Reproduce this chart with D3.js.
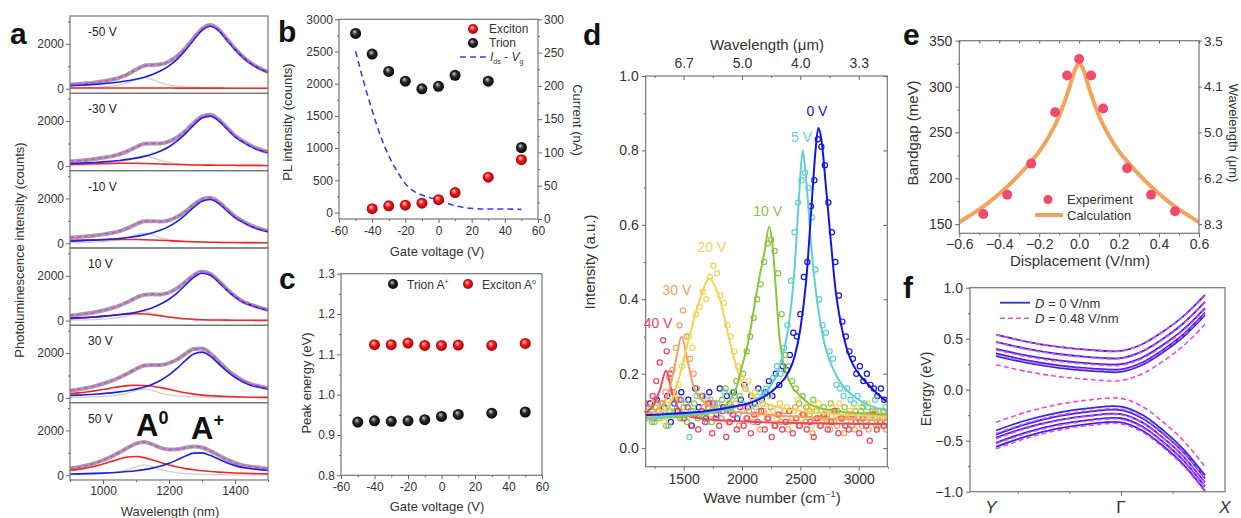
<!DOCTYPE html>
<html>
<head>
<meta charset="utf-8">
<script src="https://cdn.jsdelivr.net/npm/d3@7"></script>
<style>
  body { margin: 0; background: #fff; }
  svg { font-family: "Liberation Sans", Arial, sans-serif; }
</style>
</head>
<body>
<script>
// ---------- panel a : PL spectra at several gate voltages ----------
var aWave = [900,925,950,975,1000,1025,1050,1075,1100,1125,1150,1175,1200,1225,1250,1275,1300,1325,1350,1375,1400,1425,1450,1475,1500];
var aVolt = ["-50 V", "-30 V", "-10 V", "10 V", "30 V", "50 V"];
var aTrion = [
  [132,148,168,191,219,253,297,350,420,512,634,795,1017,1318,1712,2177,2600,2780,2600,2177,1750,1380,1090,880,720],
  [109,122,138,157,181,210,245,292,350,428,531,669,859,1115,1445,1822,2136,2223,2027,1670,1305,1060,850,700,590],
  [96,107,121,138,159,185,215,257,308,376,467,588,755,980,1270,1601,1877,1954,1782,1468,1147,932,747,615,519],
  [111,125,142,162,187,218,259,310,375,462,579,738,954,1240,1588,1927,2114,2031,1732,1374,1060,816,680,560,460],
  [112,127,145,166,193,226,269,322,394,488,615,789,1025,1328,1675,1964,2044,1863,1535,1199,923,713,560,480,400],
  [57,64,73,84,98,115,137,165,202,251,318,410,532,688,859,986,999,889,722,561,431,334,290,250,215]
];
var aExciton = [
  [30,30,30,30,30,30,30,30,29,28,27,26,25,24,23,22,22,21,21,20,20,20,20,20,20],
  [70,80,90,100,110,115,120,120,118,110,100,88,75,63,53,45,40,35,32,30,28,26,25,24,23],
  [130,140,150,158,165,170,172,172,168,160,148,132,115,98,82,68,57,48,42,37,33,30,28,26,25],
  [90,110,135,165,200,240,275,300,310,295,260,210,160,115,80,55,40,30,24,20,17,15,13,12,12],
  [190,225,265,315,375,440,505,550,565,555,520,460,390,300,230,170,125,100,80,65,52,42,34,28,24],
  [217,264,324,402,499,613,728,816,838,786,684,566,458,369,298,244,201,168,142,121,104,91,80,71,63]
];
var aComp = [
  [26,34,43,57,78,111,168,263,398,480,398,263,168,111,78,57,43,34,26,22,18,15,13,11,10],
  [25,31,40,54,73,104,158,247,373,450,373,247,158,104,73,54,40,31,25,20,17,14,12,10,9],
  [25,31,40,54,73,104,158,247,373,450,373,247,158,104,73,54,40,31,25,20,17,14,12,10,9],
  [22,28,36,48,65,93,140,219,332,400,332,219,140,93,65,48,36,28,22,18,15,13,11,9,8],
  [22,28,36,48,65,93,140,219,332,400,332,219,140,93,65,48,36,28,22,18,15,13,11,9,8],
  [25,31,40,54,73,104,158,247,373,450,373,247,158,104,73,54,40,31,25,20,17,14,12,10,9]
];

// ---------- panel b : PL intensity and current vs gate ----------
var bGate = [-50,-40,-30,-20,-10,0,10,30,50];
var bTrion = [2780,2460,2190,2040,1920,1960,2130,2040,1010];
var bExcGate = [-40,-30,-20,-10,0,10,30,50];
var bExciton = [60,105,115,145,200,310,550,820];
var bCurGate = [-50,-45,-40,-35,-30,-25,-20,-15,-10,-5,0,5,10,20,30,40,50];
var bCurrent = [252,205,163,125,95,72,53,42,36,32,29,24,20,16,15,15,14.5];

// ---------- panel c : peak energies ----------
var cTrion = [0.932,0.935,0.934,0.935,0.938,0.946,0.951,0.954,0.957];
var cExciton = [1.124,1.124,1.128,1.122,1.122,1.123,1.122,1.127];

// ---------- panel d : mid-IR PL ----------
var dTopLabels = ["6.7", "5.0", "4.0", "3.3"];
var dStep = 30;
var dData0V = [.10,.12,.08,.13,.09,.11,.14,.07,.12,.10, .15,.09,.13,.06,.16,.11,.14,.08,.15,.12,
  .09,.16,.11,.14,.10,.15,.08,.13,.17,.11, .14,.12,.16,.13,.15,.18,.14,.20,.17,.22,
  .21,.25,.31,.30,.36,.46,.50,.65,.72,.83, .81,.76,.66,.58,.50,.41,.34,.30,.26,.24, .20,.22,.18,.20,.17,.16,.14,.16,.13];
var dData5V = [.08,.11,.07,.10,.12,.09,.06,.11,.10,.13, .08,.12,.03,.10,.14,.09,.11,.07,.13,.10,
  .12,.08,.15,.10,.11,.14,.09,.12,.16,.10, .13,.11,.15,.12,.16,.14,.19,.22,.20,.27,
  .33,.45,.58,.66,.72,.74,.70,.62,.48,.40, .33,.31,.26,.24,.17,.16,.14,.16,.13,.12, .14,.10,.12,.11,.09,.13,.10,.08,.11];
var dData10V = [.09,.07,.11,.08,.12,.06,.10,.09,.13,.08, .11,.07,.10,.12,.08,.14,.09,.11,.07,.12,
  .10,.13,.16,.12,.15,.18,.14,.20,.26,.30, .35,.40,.44,.50,.55,.56,.53,.47,.36,.25,
  .22,.18,.16,.12,.14,.11,.09,.13,.10,.08, .11,.09,.12,.07,.10,.08,.11,.09,.06,.10, .08,.11,.07,.09,.10,.06,.08,.10,.07];
var dData20V = [.10,.08,.12,.09,.11,.07,.13,.10,.14,.17, .22,.24,.30,.27,.36,.38,.42,.40,.46,.49,
  .47,.41,.39,.33,.30,.26,.22,.19,.16,.18, .13,.15,.11,.12,.09,.14,.10,.08,.12,.09,
  .11,.07,.10,.13,.08,.09,.11,.06,.10,.12, .08,.10,.07,.11,.09,.12,.08,.06,.10,.09, .11,.07,.09,.12,.08,.10,.06,.09,.08];
var dData30V = [.11,.08,.13,.10,.12,.15,.19,.21,.27,.33, .37,.30,.24,.20,.16,.14,.11,.13,.09,.12,
  .10,.08,.11,.07,.09,.12,.06,.10,.08,.11, .07,.09,.05,.10,.08,.11,.06,.09,.07,.10,
  .05,.08,.11,.06,.09,.07,.10,.04,.08,.06, .09,.07,.05,.10,.06,.08,.04,.09,.07,.05, .08,.06,.09,.05,.07,.10,.06,.08,.05];
var dData40V = [.12,.09,.14,.18,.23,.29,.26,.20,.15,.10, .13,.08,.11,.06,.09,.05,.10,.07,.12,.04,
  .08,.06,.10,.03,.07,.09,.05,.11,.06,.08, .04,.09,.07,.10,.05,.08,.03,.06,.09,.05,
  .07,.10,.04,.08,.06,.09,.05,.07,.03,.08, .06,.09,.05,.07,.10,.04,.08,.06,.05,.09, .07,.04,.08,.06,.02,.09,.05,.07,.06];
var dFit0V = [[1175,.088],[1400,.092],[1700,.10],[1900,.11],[2100,.125],[2200,.14],[2300,.165],[2400,.205],[2450,.245],[2500,.32],[2550,.45],[2600,.67],[2630,.80],[2654,.86],[2680,.83],[2720,.70],[2760,.56],[2800,.43],[2850,.33],[2900,.265],[2950,.225],[3000,.20],[3100,.165],[3200,.135],[3245,.125]];
var dFit5V = [[1175,.08],[1500,.09],[1800,.10],[2000,.115],[2200,.15],[2300,.20],[2350,.25],[2400,.33],[2450,.48],[2490,.68],[2520,.80],[2550,.72],[2600,.52],[2650,.38],[2700,.29],[2800,.20],[2900,.155],[3000,.13],[3245,.10]];
var dFit10V = [[1175,.08],[1500,.085],[1800,.10],[1900,.13],[1950,.16],[2000,.22],[2050,.28],[2100,.37],[2150,.46],[2195,.53],[2232,.595],[2260,.55],[2290,.43],[2320,.30],[2360,.22],[2420,.17],[2500,.14],[2600,.115],[2800,.10],[3245,.09]];
var dFit20V = [[1175,.085],[1300,.095],[1400,.13],[1470,.20],[1550,.30],[1640,.40],[1719,.455],[1810,.40],[1900,.28],[1980,.19],[2100,.14],[2250,.115],[2500,.10],[3245,.085]];
var dFit30V = [[1175,.09],[1300,.11],[1380,.16],[1430,.23],[1483,.30],[1530,.24],[1580,.17],[1650,.13],[1800,.105],[2200,.09],[3245,.075]];
var dFit40V = [[1175,.095],[1250,.12],[1300,.16],[1349,.208],[1400,.15],[1450,.11],[1550,.085],[1800,.075],[2400,.068],[3245,.065]];

// ---------- panel e : bandgap vs displacement ----------
var eDisp = [-0.48,-0.36,-0.24,-0.12,-0.06,0,0.06,0.12,0.24,0.36,0.48];
var eGap = [161,182,216,272,312,330,312,276,211,182,164];
var eCalcDisp = [-0.6,-0.55,-0.5,-0.45,-0.4,-0.35,-0.3,-0.25,-0.2,-0.15,-0.1,-0.05,-0.025,0,0.025,0.05,0.1,0.15,0.2,0.25,0.3,0.35,0.4,0.45,0.5,0.55,0.6];
var eCalc = [152,159,166,174,183,193,204,216,229,246,268,298,316,325,316,298,268,246,229,216,204,193,183,174,166,159,152];
var eGapTicks = [150,200,250,300,350];
var eWaveLabels = ["8.3","6.2","5.0","4.1","3.5"];

// ---------- panel f : band structure ----------
var fK = [0,0.25,0.5,0.75,1,1.17,1.34,1.5,1.672];
var fBlue = [
  [0.54,0.47,0.42,0.39,0.38,0.446,0.573,0.721,0.93],
  [0.47,0.40,0.35,0.32,0.31,0.376,0.503,0.651,0.86],
  [0.40,0.334,0.288,0.259,0.25,0.316,0.443,0.591,0.80],
  [0.355,0.287,0.239,0.21,0.20,0.267,0.394,0.544,0.755],
  [0.33,0.262,0.214,0.185,0.175,0.242,0.369,0.519,0.73],
  [-0.40,-0.297,-0.224,-0.18,-0.165,-0.246,-0.401,-0.584,-0.84],
  [-0.44,-0.335,-0.26,-0.215,-0.20,-0.28,-0.435,-0.615,-0.87],
  [-0.47,-0.369,-0.298,-0.254,-0.24,-0.32,-0.475,-0.655,-0.91],
  [-0.52,-0.415,-0.34,-0.295,-0.28,-0.36,-0.515,-0.695,-0.95],
  [-0.56,-0.455,-0.38,-0.335,-0.32,-0.40,-0.555,-0.735,-0.99]
];
var fMagenta = [
  [0.54,0.47,0.42,0.39,0.38,0.446,0.572,0.719,0.92],
  [0.465,0.395,0.345,0.315,0.305,0.371,0.498,0.646,0.855],
  [0.39,0.324,0.278,0.249,0.24,0.306,0.433,0.581,0.79],
  [0.34,0.274,0.228,0.199,0.19,0.257,0.384,0.534,0.745],
  [0.245,0.177,0.129,0.10,0.09,0.156,0.283,0.431,0.64],
  [-0.32,-0.217,-0.144,-0.10,-0.085,-0.165,-0.32,-0.50,-0.755],
  [-0.43,-0.325,-0.25,-0.205,-0.19,-0.271,-0.426,-0.609,-0.865],
  [-0.48,-0.377,-0.304,-0.26,-0.245,-0.325,-0.48,-0.66,-0.915],
  [-0.53,-0.425,-0.35,-0.305,-0.29,-0.37,-0.523,-0.702,-0.955],
  [-0.58,-0.473,-0.396,-0.35,-0.335,-0.415,-0.568,-0.747,-1.0]
];

var W = 1241, H = 518;
var svg = d3.select("body").append("svg").attr("width", W).attr("height", H);
svg.append("rect").attr("width", W).attr("height", H).attr("fill", "#fff");
var defs = svg.append("defs");

function ball(id, c0, c1, c2) {
  var g = defs.append("radialGradient").attr("id", id)
    .attr("cx", "50%").attr("cy", "50%").attr("r", "55%")
    .attr("fx", "38%").attr("fy", "32%");
  g.append("stop").attr("offset", "0%").attr("stop-color", c0);
  g.append("stop").attr("offset", "45%").attr("stop-color", c1);
  g.append("stop").attr("offset", "100%").attr("stop-color", c2);
}
ball("redBall", "#ffd6d6", "#f01a1a", "#9a0000");
ball("blackBall", "#d0d0d0", "#2a2a2a", "#000");

function frame(x0, y0, x1, y1) {
  svg.append("rect").attr("x", x0).attr("y", y0)
    .attr("width", x1 - x0).attr("height", y1 - y0)
    .attr("fill", "none").attr("stroke", "#777").attr("stroke-width", 1.2);
}

function axis(gen, tx, ty, fs) {
  var g = svg.append("g").attr("transform", "translate(" + tx + "," + ty + ")").call(gen);
  g.select(".domain").remove();
  g.selectAll("line").attr("stroke", "#666");
  g.selectAll("text").attr("fill", "#333").attr("font-size", fs || 12)
    .attr("font-family", "Liberation Sans, Arial, sans-serif");
  return g;
}

function label(x, y, txt, fs, rot, anchor) {
  var t = svg.append("text").attr("font-size", fs).attr("fill", "#333")
    .attr("text-anchor", anchor || "middle");
  if (rot) t.attr("transform", "translate(" + x + "," + y + ") rotate(" + rot + ")");
  else t.attr("x", x).attr("y", y);
  t.text(txt);
  return t;
}

function letter(x, y, txt) {
  svg.append("text").attr("x", x).attr("y", y).attr("font-size", 30)
    .attr("font-weight", "bold").attr("fill", "#111").text(txt);
}

var plain = function(d) { return String(d); };

// ================= panel a =================
var ax = d3.scaleLinear().domain([900, 1500]).range([70, 268]);
var aTop = 16, aH = 77.33;
aTrion.forEach(function(tr, i) {
  var y0 = aTop + i * aH;
  var y = d3.scaleLinear().domain([-210, 3240]).range([y0 + aH, y0]);
  var total = aWave.map(function(w, j) { return tr[j] + aExciton[i][j] + aComp[i][j]; });
  var line = d3.line()
    .x(function(d, j) { return ax(aWave[j]); })
    .y(function(d) { return y(d); })
    .curve(d3.curveMonotoneX);
  svg.append("path").datum(total).attr("d", line).attr("fill", "none")
    .attr("stroke", "#a2a2a2").attr("stroke-width", 4);
  svg.append("path").datum(aComp[i]).attr("d", line).attr("fill", "none")
    .attr("stroke", "#cfcfcf").attr("stroke-width", 1.3);
  svg.append("path").datum(aExciton[i]).attr("d", line).attr("fill", "none")
    .attr("stroke", "#f22424").attr("stroke-width", 1.6);
  svg.append("path").datum(tr).attr("d", line).attr("fill", "none")
    .attr("stroke", "#1c1cee").attr("stroke-width", 1.6);
  svg.append("path").datum(total).attr("d", line).attr("fill", "none")
    .attr("stroke", "#e23ee8").attr("stroke-width", 1.5).attr("stroke-dasharray", "4,3");
  frame(70, y0, 268, y0 + aH);
  axis(d3.axisLeft(y).tickValues([0, 2000]).tickSize(4).tickPadding(2).tickFormat(plain), 70, 0, 12);
  axis(d3.axisLeft(y).tickValues([1000, 3000]).tickSize(2).tickFormat(""), 70, 0);
  svg.append("text").attr("x", 88).attr("y", y0 + 20).attr("font-size", 12)
    .attr("fill", "#222").text(aVolt[i]);
});
axis(d3.axisBottom(ax).tickValues([1000, 1200, 1400]).tickSize(4).tickPadding(3).tickFormat(plain), 0, aTop + 6 * aH, 12);
axis(d3.axisBottom(ax).tickValues([900, 1100, 1300, 1500]).tickSize(2).tickFormat(""), 0, aTop + 6 * aH);
label(170, 516, "Wavelength (nm)", 13);
label(24, 250, "Photoluminescence intensity (counts)", 13, -90);
letter(10, 44, "a");
var aA0 = svg.append("text").attr("x", 136).attr("y", 436).attr("font-size", 31)
  .attr("font-weight", "bold").attr("fill", "#111").text("A");
aA0.append("tspan").attr("dy", -12).attr("font-size", 18).text("0");
var aAp = svg.append("text").attr("x", 191).attr("y", 439).attr("font-size", 31)
  .attr("font-weight", "bold").attr("fill", "#111").text("A");
aAp.append("tspan").attr("dy", -13).attr("font-size", 18).text("+");

// ================= panel b =================
var bx = d3.scaleLinear().domain([-60, 60]).range([339, 538]);
var by = d3.scaleLinear().domain([-100, 3000]).range([219, 19.3]);
var byR = d3.scaleLinear().domain([0, 300]).range([219, 19.3]);
svg.append("path").datum(bCurrent)
  .attr("d", d3.line().x(function(d, j) { return bx(bCurGate[j]); })
    .y(function(d) { return byR(d); }).curve(d3.curveMonotoneX))
  .attr("fill", "none").attr("stroke", "#3c3cf0").attr("stroke-width", 1.6)
  .attr("stroke-dasharray", "6,4");
svg.append("g").selectAll("circle").data(bTrion).enter().append("circle")
  .attr("cx", function(d, j) { return bx(bGate[j]); })
  .attr("cy", function(d) { return by(d); })
  .attr("r", 5.5).attr("fill", "url(#blackBall)");
svg.append("g").selectAll("circle").data(bExciton).enter().append("circle")
  .attr("cx", function(d, j) { return bx(bExcGate[j]); })
  .attr("cy", function(d) { return by(d); })
  .attr("r", 5.5).attr("fill", "url(#redBall)");
frame(339, 19.3, 538, 219);
axis(d3.axisLeft(by).tickValues(d3.range(0, 3001, 500)).tickSize(4).tickPadding(2).tickFormat(plain), 339, 0, 12);
axis(d3.axisLeft(by).tickValues(d3.range(250, 3000, 500)).tickSize(2).tickFormat(""), 339, 0);
axis(d3.axisRight(byR).tickValues(d3.range(0, 301, 50)).tickSize(4).tickPadding(2).tickFormat(plain), 538, 0, 12);
axis(d3.axisRight(byR).tickValues(d3.range(25, 300, 50)).tickSize(2).tickFormat(""), 538, 0);
axis(d3.axisBottom(bx).tickValues(d3.range(-60, 61, 20)).tickSize(4).tickPadding(3).tickFormat(plain), 0, 219, 12);
axis(d3.axisBottom(bx).tickValues(d3.range(-50, 60, 20)).tickSize(2).tickFormat(""), 0, 219);
label(292, 122, "PL intensity (counts)", 13, -90);
label(573, 120, "Current (nA)", 13, 90);
label(437, 256, "Gate voltage (V)", 13);
letter(278, 42, "b");
svg.append("circle").attr("cx", 473).attr("cy", 29).attr("r", 5).attr("fill", "url(#redBall)");
svg.append("circle").attr("cx", 473).attr("cy", 43).attr("r", 5).attr("fill", "url(#blackBall)");
svg.append("line").attr("x1", 460).attr("x2", 487).attr("y1", 57).attr("y2", 57)
  .attr("stroke", "#3c3cf0").attr("stroke-width", 1.6).attr("stroke-dasharray", "6,4");
label(489, 33, "Exciton", 12, 0, "start");
label(489, 47, "Trion", 12, 0, "start");
var bI = svg.append("text").attr("x", 490).attr("y", 61).attr("font-size", 12).attr("fill", "#333");
bI.append("tspan").attr("font-style", "italic").text("I");
bI.append("tspan").attr("font-size", 7).attr("dy", 3).text("ds");
bI.append("tspan").attr("dy", -3).text(" - ");
bI.append("tspan").attr("font-style", "italic").text("V");
bI.append("tspan").attr("font-size", 7).attr("dy", 3).text("g");

// ================= panel c =================
var cx = d3.scaleLinear().domain([-60, 60]).range([341, 542]);
var cy = d3.scaleLinear().domain([0.8, 1.3]).range([475.3, 273.7]);
svg.append("g").selectAll("circle").data(cTrion).enter().append("circle")
  .attr("cx", function(d, j) { return cx(bGate[j]); })
  .attr("cy", function(d) { return cy(d); })
  .attr("r", 5.5).attr("fill", "url(#blackBall)");
svg.append("g").selectAll("circle").data(cExciton).enter().append("circle")
  .attr("cx", function(d, j) { return cx(bExcGate[j]); })
  .attr("cy", function(d) { return cy(d); })
  .attr("r", 5.5).attr("fill", "url(#redBall)");
frame(341, 273.7, 542, 475.3);
axis(d3.axisLeft(cy).tickValues(d3.range(0.8, 1.31, 0.1)).tickSize(4).tickPadding(2).tickFormat(d3.format(".1f")), 341, 0, 12);
axis(d3.axisLeft(cy).tickValues(d3.range(0.85, 1.3, 0.1)).tickSize(2).tickFormat(""), 341, 0);
axis(d3.axisBottom(cx).tickValues(d3.range(-60, 61, 20)).tickSize(4).tickPadding(3).tickFormat(plain), 0, 475.3, 12);
axis(d3.axisBottom(cx).tickValues(d3.range(-50, 60, 20)).tickSize(2).tickFormat(""), 0, 475.3);
label(311, 383, "Peak energy (eV)", 13, -90);
label(437, 511, "Gate voltage (V)", 13);
letter(279, 289, "c");
svg.append("circle").attr("cx", 393).attr("cy", 284).attr("r", 5).attr("fill", "url(#blackBall)");
var cT = svg.append("text").attr("x", 407).attr("y", 288.5).attr("font-size", 12).attr("fill", "#333").text("Trion A");
cT.append("tspan").attr("font-size", 7).attr("dy", -5).text("+");
svg.append("circle").attr("cx", 468).attr("cy", 284).attr("r", 5).attr("fill", "url(#redBall)");
var cE = svg.append("text").attr("x", 482).attr("y", 288.5).attr("font-size", 12).attr("fill", "#333").text("Exciton A");
cE.append("tspan").attr("font-size", 7).attr("dy", -5).text("o");

// ================= panel d =================
var dx = d3.scaleLinear().domain([1175, 3245]).range([645.7, 887.3]);
var dy = d3.scaleLinear().domain([-0.05, 1.0]).range([466.7, 76]);
var dSeries = [
  { name: "0 V", color: "#1515e0", start: 1180, data: dData0V, fit: dFit0V, lab: [2642, 0.905] },
  { name: "5 V", color: "#5fcfd0", start: 1190, data: dData5V, fit: dFit5V, lab: [2511, 0.836] },
  { name: "10 V", color: "#8cc43e", start: 1200, data: dData10V, fit: dFit10V, lab: [2220, 0.638] },
  { name: "20 V", color: "#f2d35a", start: 1185, data: dData20V, fit: dFit20V, lab: [1742, 0.539] },
  { name: "30 V", color: "#f5a062", start: 1195, data: dData30V, fit: dFit30V, lab: [1443, 0.424] },
  { name: "40 V", color: "#f0435f", start: 1175, data: dData40V, fit: dFit40V, lab: [1281, 0.336] }
];
defs.append("clipPath").attr("id", "dClip").append("rect")
  .attr("x", 645.7).attr("y", 76).attr("width", 241.6).attr("height", 390.7);
var dPlot = svg.append("g").attr("clip-path", "url(#dClip)");
dSeries.forEach(function(s) {
  dPlot.append("g").selectAll("circle").data(s.data).enter().append("circle")
    .attr("cx", function(d, j) { return dx(s.start + j * dStep); })
    .attr("cy", function(d) { return dy(d); })
    .attr("r", 2.6).attr("fill", "none").attr("stroke", s.color).attr("stroke-width", 1.2);
});
var dLine = d3.line().x(function(d) { return dx(d[0]); }).y(function(d) { return dy(d[1]); })
  .curve(d3.curveMonotoneX);
dSeries.slice().reverse().forEach(function(s) {
  dPlot.append("path").datum(s.fit).attr("d", dLine).attr("fill", "none")
    .attr("stroke", s.color).attr("stroke-width", 2);
});
dSeries.forEach(function(s) {
  svg.append("text").attr("x", dx(s.lab[0])).attr("y", dy(s.lab[1])).attr("dy", "0.35em")
    .attr("text-anchor", "middle").attr("font-size", 14).attr("fill", s.color).text(s.name);
});
frame(645.7, 76, 887.3, 466.7);
axis(d3.axisLeft(dy).tickValues(d3.range(0, 1.01, 0.2)).tickSize(4).tickPadding(3).tickFormat(d3.format(".1f")), 645.7, 0, 14);
axis(d3.axisLeft(dy).tickValues(d3.range(0.1, 1, 0.2)).tickSize(2).tickFormat(""), 645.7, 0);
axis(d3.axisLeft(dy).tickValues(d3.range(0, 1.01, 0.2)).tickSize(4).tickFormat(""), 887.3, 0);
axis(d3.axisBottom(dx).tickValues([1500, 2000, 2500, 3000]).tickSize(4).tickPadding(3).tickFormat(plain), 0, 466.7, 14);
axis(d3.axisBottom(dx).tickValues([1250, 1750, 2250, 2750, 3250]).tickSize(2).tickFormat(""), 0, 466.7);
axis(d3.axisBottom(dx).tickValues([1500, 2000, 2500, 3000]).tickSize(4)
  .tickFormat(function(d, j) { return dTopLabels[j]; }).tickPadding(-22), 0, 76, 14);
axis(d3.axisBottom(dx).tickValues([1250, 1750, 2250, 2750]).tickSize(2).tickFormat(""), 0, 76);
label(595, 262, "Intensity (a.u.)", 15, -90);
var dXl = svg.append("text").attr("x", 772).attr("y", 503).attr("font-size", 15)
  .attr("text-anchor", "middle").attr("fill", "#333").text("Wave number (cm");
dXl.append("tspan").attr("font-size", 9).attr("dy", -6).text("\u22121");
dXl.append("tspan").attr("dy", 6).text(")");
label(767, 50, "Wavelength (\u03bcm)", 15);
letter(583, 45, "d");

// ================= panel e =================
var ex = d3.scaleLinear().domain([-0.6, 0.6]).range([959.3, 1199]);
var ey = d3.scaleLinear().domain([140, 350]).range([233.3, 40.7]);
defs.append("clipPath").attr("id", "eClip").append("rect")
  .attr("x", 959.3).attr("y", 40.7).attr("width", 239.7).attr("height", 192.6);
svg.append("path").datum(eCalc).attr("clip-path", "url(#eClip)")
  .attr("d", d3.line().x(function(d, j) { return ex(eCalcDisp[j]); })
    .y(function(d) { return ey(d); }).curve(d3.curveMonotoneX))
  .attr("fill", "none").attr("stroke", "#f5a35c").attr("stroke-width", 4);
svg.append("g").selectAll("circle").data(eGap).enter().append("circle")
  .attr("cx", function(d, j) { return ex(eDisp[j]); })
  .attr("cy", function(d) { return ey(d); })
  .attr("r", 5).attr("fill", "#ef4b6c");
frame(959.3, 40.7, 1199, 233.3);
axis(d3.axisLeft(ey).tickValues(eGapTicks).tickSize(4).tickPadding(3).tickFormat(plain), 959.3, 0, 14);
axis(d3.axisLeft(ey).tickValues([175, 225, 275, 325]).tickSize(2).tickFormat(""), 959.3, 0);
axis(d3.axisRight(ey).tickValues(eGapTicks).tickSize(3).tickPadding(2)
  .tickFormat(function(d, j) { return eWaveLabels[j]; }), 1199, 0, 13.5);
axis(d3.axisBottom(ex).tickValues(d3.range(-0.6, 0.61, 0.2)).tickSize(4).tickPadding(2).tickFormat(d3.format(".1f")), 0, 233.3, 14);
axis(d3.axisBottom(ex).tickValues(d3.range(-0.5, 0.6, 0.2)).tickSize(2).tickFormat(""), 0, 233.3);
axis(d3.axisTop(ex).tickValues(d3.range(-0.6, 0.61, 0.1)).tickSize(-3).tickFormat(""), 0, 40.7);
label(918, 133, "Bandgap (meV)", 15, -90);
label(1229, 133, "Wavelength (\u03bcm)", 13, 90);
label(1080, 266, "Displacement (V/nm)", 15);
letter(903, 45, "e");
svg.append("circle").attr("cx", 1048).attr("cy", 199.5).attr("r", 4.5).attr("fill", "#ef4b6c");
svg.append("line").attr("x1", 1035).attr("x2", 1063).attr("y1", 215).attr("y2", 215)
  .attr("stroke", "#f5a35c").attr("stroke-width", 4);
label(1067, 204, "Experiment", 13, 0, "start");
label(1067, 219.5, "Calculation", 13, 0, "start");

// ================= panel f =================
var fx = d3.scaleLinear().domain([-0.208, 1.832]).range([970, 1225]);
var fy = d3.scaleLinear().domain([-1, 1]).range([491.7, 287.7]);
var fLine = d3.line().x(function(d, j) { return fx(fK[j]); }).y(function(d) { return fy(d); })
  .curve(d3.curveCatmullRom);
fBlue.forEach(function(b) {
  svg.append("path").datum(b).attr("d", fLine).attr("fill", "none")
    .attr("stroke", "#2a2ae8").attr("stroke-width", 1.8);
});
fMagenta.forEach(function(b) {
  svg.append("path").datum(b).attr("d", fLine).attr("fill", "none")
    .attr("stroke", "#ea48ea").attr("stroke-width", 1.6).attr("stroke-dasharray", "5,3");
});
frame(970, 287.7, 1225, 491.7);
axis(d3.axisLeft(fy).tickValues([-1, -0.5, 0, 0.5, 1]).tickSize(4).tickPadding(3).tickFormat(d3.format(".1f")), 970, 0, 14);
axis(d3.axisLeft(fy).tickValues([-0.75, -0.25, 0.25, 0.75]).tickSize(2).tickFormat(""), 970, 0);
axis(d3.axisBottom(fx).tickValues([1]).tickSize(4).tickFormat(""), 0, 491.7);
axis(d3.axisBottom(fx).tickValues([0.174, 0.587, 1.413]).tickSize(2).tickFormat(""), 0, 491.7);
svg.append("text").attr("x", fx(0) - 5).attr("y", 513).attr("text-anchor", "middle")
  .attr("font-size", 17).attr("font-style", "italic").attr("fill", "#333").text("Y");
svg.append("text").attr("x", fx(1)).attr("y", 513).attr("text-anchor", "middle")
  .attr("font-size", 17).attr("fill", "#333").text("\u0393");
svg.append("text").attr("x", 1225).attr("y", 513).attr("text-anchor", "middle")
  .attr("font-size", 17).attr("font-style", "italic").attr("fill", "#333").text("X");
label(931, 389, "Energy (eV)", 14, -90);
letter(903, 298, "f");
svg.append("line").attr("x1", 1000).attr("x2", 1030).attr("y1", 302.7).attr("y2", 302.7)
  .attr("stroke", "#2a2ae8").attr("stroke-width", 1.8);
svg.append("line").attr("x1", 1000).attr("x2", 1030).attr("y1", 318.3).attr("y2", 318.3)
  .attr("stroke", "#ea48ea").attr("stroke-width", 1.6).attr("stroke-dasharray", "5,3");
var fL1 = svg.append("text").attr("x", 1035).attr("y", 307.5).attr("font-size", 13).attr("fill", "#333");
fL1.append("tspan").attr("font-style", "italic").text("D");
fL1.append("tspan").text(" = 0 V/nm");
var fL2 = svg.append("text").attr("x", 1035).attr("y", 323).attr("font-size", 13).attr("fill", "#333");
fL2.append("tspan").attr("font-style", "italic").text("D");
fL2.append("tspan").text(" = 0.48 V/nm");
</script>
</body>
</html>
